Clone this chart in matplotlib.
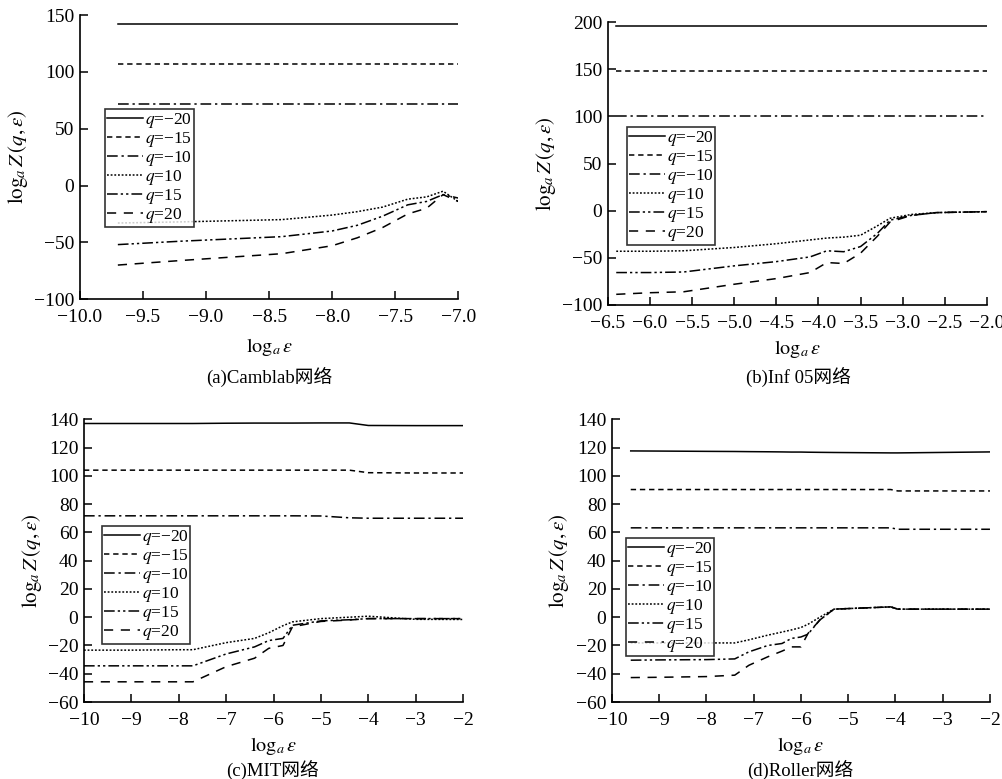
import matplotlib
matplotlib.use("Agg")
import matplotlib.pyplot as plt

plt.rcParams['font.family'] = ['Liberation Serif', 'Noto Sans CJK SC']
plt.rcParams['mathtext.fontset'] = 'stix'
plt.rcParams['axes.unicode_minus'] = True

# ---------------- data ----------------
labels = [r'$q$=−20', r'$q$=−15', r'$q$=−10', r'$q$=10', r'$q$=15', r'$q$=20']

# (a) Camblab
xa = [-9.7, -9.2, -8.8, -8.4, -8.0, -7.8, -7.6, -7.4, -7.25, -7.12, -7.0]
a_m20 = [142] * 11
a_m15 = [107] * 11
a_m10 = [72] * 11
a_p10 = [-33, -32, -31, -30, -26, -23, -19, -12, -10, -5, -14]
a_p15 = [-52, -49, -47, -45, -40, -35, -27, -17, -14, -8, -11]
a_p20 = [-70, -66, -63, -60, -53, -46, -37, -25, -20, -8, -14]

# (b) Inf 05
xb = [-6.4, -6.0, -5.6, -5.0, -4.5, -4.1, -3.9, -3.7, -3.5, -3.3, -3.15, -2.9, -2.6, -2.0]
b_m20 = [196] * 14
b_m15 = [148] * 14
b_m10 = [100] * 14
b_p10 = [-43, -43, -42.5, -39, -35, -31, -29, -28, -26, -16, -8, -4, -2, -1]
b_p15 = [-65.6, -65.6, -65, -58.5, -54, -49, -42.5, -43.5, -38, -24, -10, -5, -2, -1]
b_p20 = [-88.7, -87, -86, -78, -72, -65.6, -55, -56, -45, -27, -12, -5, -2, -1]

# (c) MIT
xc = [-10, -9, -8, -7.7, -7, -6.4, -6.1, -5.8, -5.6, -5, -4.4, -4, -3, -2]
c_m20 = [137, 137, 137, 137, 137.2, 137.3, 137.3, 137.3, 137.3, 137.4, 137.4, 135.6, 135.5, 135.5]
c_m15 = [104, 104, 104, 104, 104, 104, 104, 104, 104, 104, 104, 102.2, 102, 102]
c_m10 = [71.7, 71.7, 71.7, 71.7, 71.7, 71.7, 71.7, 71.7, 71.7, 71.6, 70.3, 70, 70, 70]
c_p10 = [-23.3, -23.3, -23, -23, -18, -15, -11, -6, -3.3, -1, 0, 0.7, -1.5, -1.6]
c_p15 = [-34.4, -34.4, -34.4, -34.4, -26, -21, -16.5, -15, -5.7, -2.6, -1.8, -1, -1, -1]
c_p20 = [-45.7, -45.7, -45.7, -45.7, -35, -29, -22, -20, -6.8, -3, -2, -1, -1, -1]

# (d) Roller
xd = [-9.6, -9, -8, -7.4, -7.1, -6.7, -6.4, -6.2, -6.0, -5.85, -5.6, -5.3, -4.1, -3.95, -2]
d_m20 = [117.6, 117.5, 117.3, 117.2, 117.1, 117, 116.9, 116.8, 116.8, 116.7, 116.6, 116.5, 116.2, 116.2, 116.9]
d_m15 = [90.3] * 12 + [90.3, 89.3, 89.3]
d_m10 = [63.2] * 12 + [63.2, 62.2, 62.2]
d_p10 = [-18.2, -18.2, -18.2, -18.2, -16, -12.7, -10.5, -9, -7.3, -5, 0, 5.7, 7.3, 5.7, 5.7]
d_p15 = [-30.4, -30.2, -30, -29.5, -24.5, -20, -18.6, -15, -14, -12, -2, 5.7, 7.3, 5.7, 5.7]
d_p20 = [-42.7, -42.5, -42, -41, -34, -28, -24, -21, -21, -11.5, -2, 5.7, 7.3, 5.7, 5.7]

xticks_a = [-10.0, -9.5, -9.0, -8.5, -8.0, -7.5, -7.0]
yticks_a = [-100, -50, 0, 50, 100, 150]
xticks_b = [-6.5, -6.0, -5.5, -5.0, -4.5, -4.0, -3.5, -3.0, -2.5, -2.0]
yticks_b = [-100, -50, 0, 50, 100, 150, 200]
xticks_cd = [-10, -9, -8, -7, -6, -5, -4, -3, -2]
yticks_cd = [-60, -40, -20, 0, 20, 40, 60, 80, 100, 120, 140]

captions = ['(a)Camblab网络', '(b)Inf 05网络', '(c)MIT网络', '(d)Roller网络']

styles = [
    dict(linestyle='-'),
    dict(linestyle=(0, (3.5, 2.5))),
    dict(linestyle=(0, (7, 2.5, 1.5, 2.5))),
    dict(linestyle=(0, (1.2, 1.2))),
    dict(linestyle=(0, (7, 2, 1.5, 2, 1.5, 2))),
    dict(linestyle=(0, (6, 5))),
]

W, H = 1003, 779
panels = [
    (xa, [a_m20, a_m15, a_m10, a_p10, a_p15, a_p20], xticks_a, yticks_a, '{:.1f}',
     [0.0798, 0.616, 0.377, 0.3646], (0.066, 0.668), 347, 377, 269),
    (xb, [b_m20, b_m15, b_m10, b_p10, b_p15, b_p20], xticks_b, yticks_b, '{:.1f}',
     [0.606, 0.6085, 0.378, 0.363], (0.05, 0.628), 349, 377, 798),
    (xc, [c_m20, c_m15, c_m10, c_p10, c_p15, c_p20], xticks_cd, yticks_cd, '{:d}',
     [0.0837, 0.0988, 0.378, 0.363], (0.047, 0.621), 746, 770, 273),
    (xd, [d_m20, d_m15, d_m10, d_p10, d_p15, d_p20], xticks_cd, yticks_cd, '{:d}',
     [0.610, 0.0988, 0.377, 0.363], (0.037, 0.579), 746, 770, 800),
]

fig = plt.figure(figsize=(W / 100, H / 100), dpi=100)

for i, (x, series, xt, yt, fmt, rect, lpos, xl_y, cap_y, cap_x) in enumerate(panels):
    ax = fig.add_axes(rect)
    for ys, lab, st in zip(series, labels, styles):
        ax.plot(x, ys, color='black', lw=1.1, label=lab, **st)
    ax.set_xlim(xt[0], xt[-1])
    ax.set_ylim(yt[0], yt[-1])
    ax.set_xticks(xt)
    ax.set_yticks(yt)
    ax.set_xticklabels([fmt.format(v).replace('-', '−') for v in xt])
    ax.set_yticklabels([str(v).replace('-', '−') for v in yt])
    for s in ['top', 'right']:
        ax.spines[s].set_visible(False)
    for s in ['left', 'bottom']:
        ax.spines[s].set_linewidth(1.2)
    ax.tick_params(direction='in', length=6, width=1.1, labelsize=14)
    ax.tick_params(axis='x', pad=7)
    ax.tick_params(axis='y', pad=4)
    ax.set_xlabel(r'$\log_{a}\varepsilon$', fontsize=14.5)
    ax.set_ylabel(r'$\log_{a}Z\,(q,\varepsilon)$', fontsize=15, labelpad=3)
    bottom_px = H * (1 - rect[1])
    ax.xaxis.set_label_coords(0.5, -(xl_y - bottom_px) / (rect[3] * H))
    ax.xaxis.label.set_va('center')
    leg = ax.legend(loc='upper left', bbox_to_anchor=lpos, fontsize=12.5,
                    frameon=True, fancybox=False, edgecolor='black',
                    borderpad=0.1, labelspacing=0.0, handlelength=2.1,
                    handletextpad=0.1, borderaxespad=0.0)
    leg.get_frame().set_linewidth(1.2)
    fig.text(cap_x / W, 1 - cap_y / H, captions[i], ha='center', va='center', fontsize=13.5)

fig.savefig('out.png', dpi=100, facecolor='white')
